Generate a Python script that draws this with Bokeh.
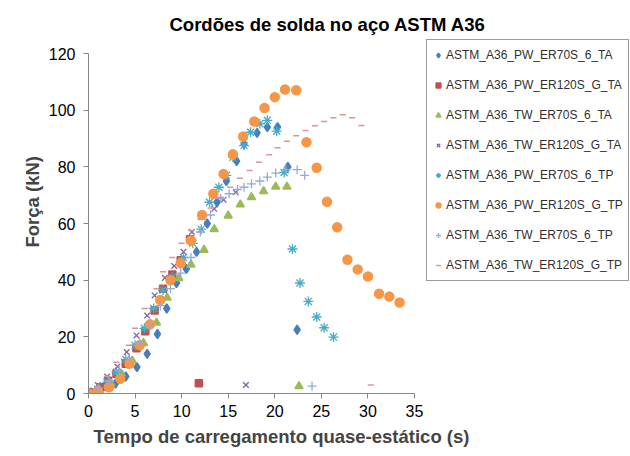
from bokeh.plotting import figure
from bokeh.models import FixedTicker, Title, Legend
from bokeh.embed import file_html
from bokeh.resources import INLINE

# ---- data ----
names = ["ASTM_A36_PW_ER70S_6_TA", "ASTM_A36_PW_ER120S_G_TA", "ASTM_A36_TW_ER70S_6_TA",
         "ASTM_A36_TW_ER120S_G_TA", "ASTM_A36_PW_ER70S_6_TP", "ASTM_A36_PW_ER120S_G_TP",
         "ASTM_A36_TW_ER70S_6_TP", "ASTM_A36_TW_ER120S_G_TP"]

pw70_ta_x = [0, 0.8, 1.9, 2.9, 4.0, 5.2, 6.3, 7.4, 8.4, 9.45, 10.5, 11.6, 12.75, 13.8, 14.8, 15.9, 16.7, 18.1, 19.2, 20.3, 21.4, 22.4]
pw70_ta_y = [0, 1, 2.5, 3.5, 6, 9.3, 14, 21, 30, 39, 44, 50, 60, 67.5, 75, 82, 88, 92, 94, 94, 80, 22.5]

pw120_ta_x = [0, 1.3, 2.1, 3.0, 4.0, 5.15, 6.1, 7.1, 8.0, 9.0, 9.9, 10.9, 11.85]
pw120_ta_y = [0.5, 2.2, 4.5, 7, 10.5, 16, 22, 29.3, 37, 42, 47, 54.4, 3.6]

tw70_ta_x = [0, 1.2, 2.4, 3.5, 4.7, 5.9, 7.3, 8.45, 9.7, 11.0, 12.4, 13.5, 15.0, 16.3, 17.5, 18.8, 20.1, 21.3, 22.6]
tw70_ta_y = [0, 1, 3.5, 7, 11.6, 17.8, 25, 33.8, 40.7, 45.5, 50.7, 58, 62.8, 66.7, 69.3, 71.4, 73, 73, 2.6]

tw120_ta_x = [0, 1, 2, 3.1, 4.1, 5.15, 6.3, 7.1, 8.2, 9.2, 10.2, 11.1, 12.2, 13.5, 14.5, 15.8, 16.9]
tw120_ta_y = [0, 3, 6, 9.5, 14.6, 20.5, 27.5, 34.6, 40.8, 45, 50, 57, 62.2, 65.2, 68.4, 71, 3]

pw70_tp_x = [0, 1, 2, 3, 4, 5, 6, 7, 8, 9, 10.2, 11.2, 12.1, 13.0, 14.0, 14.8, 15.5, 16.7, 17.4, 18.4, 19.2, 20.2, 21.0, 21.9, 22.7, 23.6, 24.5, 25.3, 26.3]
pw70_tp_y = [0, 1.5, 4, 7.5, 12, 17, 23, 30, 36.5, 41, 48, 53, 58, 67.5, 72.8, 77, 83.4, 87.5, 92.2, 95.2, 96.4, 92.6, 78, 51, 39, 32.5, 27, 23.2, 19.9]

pw120_tp_x = [0, 1.0, 2.2, 3.4, 4.4, 5.5, 6.6, 7.7, 8.8, 9.9, 11.0, 12.2, 13.4, 14.5, 15.5, 16.6, 17.8, 18.9, 20.0, 21.1, 22.3, 23.4, 24.5, 25.6, 26.7, 27.8, 28.9, 30.0, 31.2, 32.3, 33.4]
pw120_tp_y = [0, 0.5, 2.2, 5.2, 10.5, 17, 24.4, 33, 40, 46, 54, 63, 70.5, 77.5, 84.4, 90.7, 96, 100.8, 104.6, 107.3, 107, 88.7, 79.7, 67.7, 58.7, 47.2, 43.8, 41.3, 35.2, 34.2, 32.1]

tw70_tp_x = [0, 1.1, 2.2, 3.3, 4.4, 5.5, 6.6, 7.7, 8.8, 9.9, 11.0, 12.0, 13.1, 14.2, 15.1, 16.0, 16.7, 17.5, 18.4, 19.2, 20.1, 21.2, 22.4, 23.2, 24.0]
tw70_tp_y = [0, 2, 4.5, 8, 12.5, 18, 24, 31, 37, 42.5, 48, 57, 63, 68.8, 70.5, 72, 72.8, 74, 75, 76.4, 77.8, 79, 79, 77, 2.6]

tw120_tp_x = [0, 1, 2, 3, 4.3, 5, 6, 7.3, 8, 9, 10, 11, 12, 13.1, 14.2, 15.2, 16.25, 17.3, 18.3, 19.4, 20.3, 21.3, 22.3, 23.3, 24.3, 25.3, 26.3, 27.3, 28.3, 29.3, 30.3]
tw120_tp_y = [0, 2.5, 6, 11, 17, 23, 30, 37, 43, 48, 53, 57.5, 61.5, 65.5, 69.3, 72.8, 76, 78.7, 81.6, 84.3, 86.7, 89, 91, 92.8, 94.5, 96, 97.3, 98.4, 97.3, 94.6, 3]

x_ticks = [0, 5, 10, 15, 20, 25, 30, 35]
y_ticks = [0, 20, 40, 60, 80, 100, 120]
x_axis_max = 35
y_axis_max = 120

title_text = "Cordões de solda no aço ASTM A36"
x_label = "Tempo de carregamento quase-estático (s)"
y_label = "Força (kN)"

FONT = "Liberation Sans"

# The axes occupy 88..414 px (x) and 53..393 px (y); the frame itself is a
# little larger so that the legend box, which sits right of / above the axes,
# is drawn inside the frame and not clipped.
W, H = 630, 456
LEFT, AXIS_RIGHT, AXIS_TOP, AXIS_BOTTOM = 88, 414, 53, 393
FRAME_TOP = 38
x_end = x_axis_max * (W - LEFT) / (AXIS_RIGHT - LEFT)
y_end = y_axis_max * (AXIS_BOTTOM - FRAME_TOP) / (AXIS_BOTTOM - AXIS_TOP)

p = figure(width=W, height=H, output_backend="svg", toolbar_location=None,
           x_range=(0, x_end), y_range=(0, y_end),
           min_border_left=LEFT, min_border_right=0, min_border_top=FRAME_TOP,
           min_border_bottom=H - AXIS_BOTTOM)
p.outline_line_color = None
p.grid.visible = False
p.background_fill_color = "white"
p.border_fill_color = "white"

for ax in (p.xaxis[0], p.yaxis[0]):
    ax.axis_line_color = "#868686"
    ax.major_tick_line_color = "#868686"
    ax.major_tick_out = 5
    ax.major_tick_in = 0
    ax.minor_tick_line_color = None
    ax.major_label_text_font = FONT
    ax.major_label_text_font_size = "16px"
    ax.major_label_text_color = "#000000"
p.xaxis.ticker = FixedTicker(ticks=x_ticks)
p.yaxis.ticker = FixedTicker(ticks=y_ticks)
p.xaxis.bounds = (0, x_axis_max)
p.yaxis.bounds = (0, y_axis_max)
p.xaxis.major_label_standoff = 6
p.yaxis.major_label_standoff = 8

p.title.text = title_text
p.title.align = "left"
p.title.offset = 81
p.title.text_font = FONT
p.title.text_font_size = "18.5px"
p.title.text_font_style = "bold"
p.title.text_color = "#000000"
p.title.standoff = 8

p.add_layout(Title(text=x_label, align="left", offset=5, text_font=FONT,
                   text_font_size="18.5px", text_font_style="bold", standoff=8), "below")
p.add_layout(Title(text=y_label, align="left", offset=146, text_font=FONT,
                   text_font_size="18.5px", text_font_style="bold", standoff=5), "left")

series = [
    (pw70_ta_x, pw70_ta_y, "diamond", "#4A7EBB", 9, 1.5),
    (pw120_ta_x, pw120_ta_y, "square", "#C0504D", 7, 1.5),
    (tw70_ta_x, tw70_ta_y, "triangle", "#9BBB59", 8, 1.5),
    (tw120_ta_x, tw120_ta_y, "x", "#8064A2", 8, 1.3),
    (pw70_tp_x, pw70_tp_y, "asterisk", "#4BACC6", 10, 1.3),
    (pw120_tp_x, pw120_tp_y, "circle", "#F79646", 9, 1.5),
    (tw70_tp_x, tw70_tp_y, "cross", "#95A9DA", 9, 1.3),
    (tw120_tp_x, tw120_tp_y, "dash", "#D99694", 6, 1.5),
]

items = []
for (xs, ys, mk, col, sz, lw), nm in zip(series, names):
    r = p.scatter(xs, ys, marker=mk, size=sz, fill_color=col, line_color=col, line_width=lw)
    items.append((nm, [r]))

legend = Legend(items=items, location=(338, 112), orientation="vertical",
                label_text_font=FONT, label_text_font_size="12px", label_text_color="#303030",
                glyph_width=12, glyph_height=20, label_height=20, label_standoff=2,
                spacing=10, padding=5, margin=0,
                border_line_color="#3c3c3c", border_line_width=1,
                background_fill_color="white", background_fill_alpha=1.0)
p.add_layout(legend, "center")

open("out.html", "w").write(file_html(p, INLINE))
